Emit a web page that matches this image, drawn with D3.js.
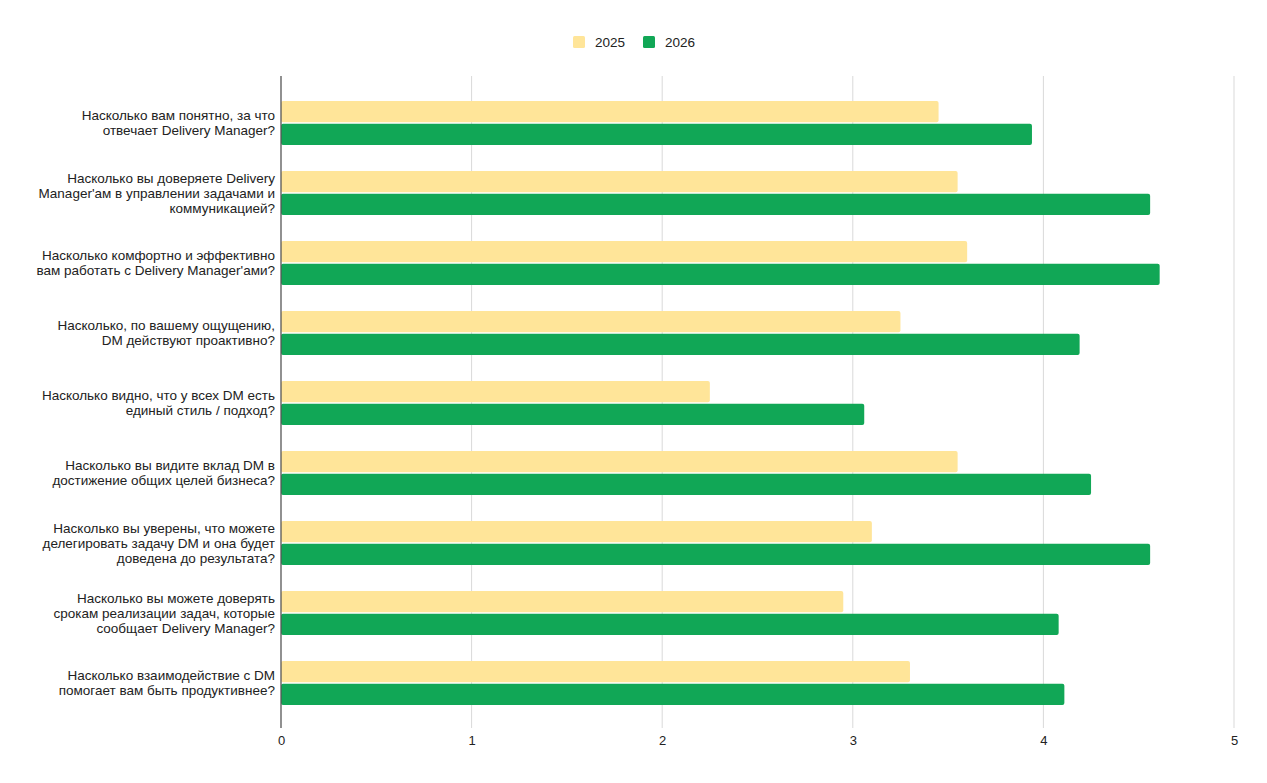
<!DOCTYPE html>
<html>
<head>
<meta charset="utf-8">
<script src="https://cdn.jsdelivr.net/npm/d3@7"></script>
<style>
  body { margin: 0; background: #fff; }
  text { font-family: "Liberation Sans", Arial, sans-serif; }
</style>
</head>
<body>
<div id="chart"></div>
<script>
// questions (line breaks as shown in the chart)
var questions = [
  ["Насколько вам понятно, за что", "отвечает Delivery Manager?"],
  ["Насколько вы доверяете Delivery", "Manager'ам в управлении задачами и", "коммуникацией?"],
  ["Насколько комфортно и эффективно", "вам работать с Delivery Manager'ами?"],
  ["Насколько, по вашему ощущению,", "DM действуют проактивно?"],
  ["Насколько видно, что у всех DM есть", "единый стиль / подход?"],
  ["Насколько вы видите вклад DM в", "достижение общих целей бизнеса?"],
  ["Насколько вы уверены, что можете", "делегировать задачу DM и она будет", "доведена до результата?"],
  ["Насколько вы можете доверять", "срокам реализации задач, которые", "сообщает Delivery Manager?"],
  ["Насколько взаимодействие с DM", "помогает вам быть продуктивнее?"]
];
var years = ["2025", "2026"];
var values2025 = [3.45, 3.55, 3.60, 3.25, 2.25, 3.55, 3.10, 2.95, 3.30];
var values2026 = [3.94, 4.56, 4.61, 4.19, 3.06, 4.25, 4.56, 4.08, 4.11];
var xTicks = [0, 1, 2, 3, 4, 5];

var colors = {"2025": "#ffe599", "2026": "#11a756"};

var width = 1267, height = 783;
var svg = d3.select("#chart").append("svg")
  .attr("width", width).attr("height", height);

var xScale = d3.scaleLinear().domain([0, 5]).range([281, 1234]);

var yScale = d3.scaleBand()
  .domain(d3.range(questions.length))
  .range([88, 718]);

var inner = d3.scaleBand()
  .domain(years)
  .range([-22, 22])
  .paddingInner(0.06);

var gridTop = 76, gridBottom = 728;

// grid lines
svg.append("g").selectAll("line")
  .data(xTicks.filter(function(d){ return d > 0; }))
  .enter().append("line")
  .attr("x1", function(d){ return xScale(d); })
  .attr("x2", function(d){ return xScale(d); })
  .attr("y1", gridTop).attr("y2", gridBottom)
  .attr("stroke", "#d9d9d9").attr("stroke-width", 1);

// x axis labels
var xAxis = d3.axisBottom(xScale).tickValues(xTicks).tickSize(0).tickPadding(0)
  .tickFormat(d3.format("d"));
var xg = svg.append("g")
  .attr("transform", "translate(0," + 736 + ")")
  .call(xAxis);
xg.select(".domain").remove();
xg.selectAll("text")
  .attr("font-size", 13).attr("fill", "#222")
  .attr("font-family", "Liberation Sans, Arial, sans-serif");

// bars
var rows = questions.map(function(q, i){
  return [{year: "2025", v: values2025[i], i: i}, {year: "2026", v: values2026[i], i: i}];
});
var groups = svg.append("g").selectAll("g")
  .data(rows).enter().append("g")
  .attr("transform", function(d, i){
    return "translate(0," + (yScale(i) + yScale.bandwidth() / 2) + ")";
  });
groups.selectAll("rect")
  .data(function(d){ return d; })
  .enter().append("rect")
  .attr("x", xScale(0))
  .attr("y", function(d){ return inner(d.year); })
  .attr("width", function(d){ return xScale(d.v) - xScale(0); })
  .attr("height", inner.bandwidth())
  .attr("rx", 2).attr("ry", 2)
  .attr("fill", function(d){ return colors[d.year]; });

// zero axis line
svg.append("line")
  .attr("x1", xScale(0)).attr("x2", xScale(0))
  .attr("y1", gridTop).attr("y2", gridBottom)
  .attr("stroke", "#555").attr("stroke-width", 1.3);

// category labels
var lineH = 15;
svg.append("g").selectAll("text")
  .data(questions).enter().append("text")
  .attr("text-anchor", "end")
  .attr("font-size", 13.5)
  .attr("fill", "#222")
  .each(function(lines, i){
    var cy = yScale(i) + yScale.bandwidth() / 2;
    var y0 = cy - (lines.length - 1) * lineH / 2;
    d3.select(this).selectAll("tspan")
      .data(lines).enter().append("tspan")
      .attr("x", 275)
      .attr("y", function(l, k){ return y0 + k * lineH; })
      .attr("dy", "0.35em")
      .text(function(l){ return l; });
  });

// legend
var legend = svg.append("g");
var legendX = [573, 643];
years.forEach(function(y, k){
  legend.append("rect")
    .attr("x", legendX[k]).attr("y", 36)
    .attr("width", 12).attr("height", 12)
    .attr("rx", 1.5)
    .attr("fill", colors[y]);
  legend.append("text")
    .attr("x", legendX[k] + 22).attr("y", 42)
    .attr("dy", "0.35em")
    .attr("font-size", 13.5).attr("fill", "#222")
    .text(y);
});
</script>
</body>
</html>
